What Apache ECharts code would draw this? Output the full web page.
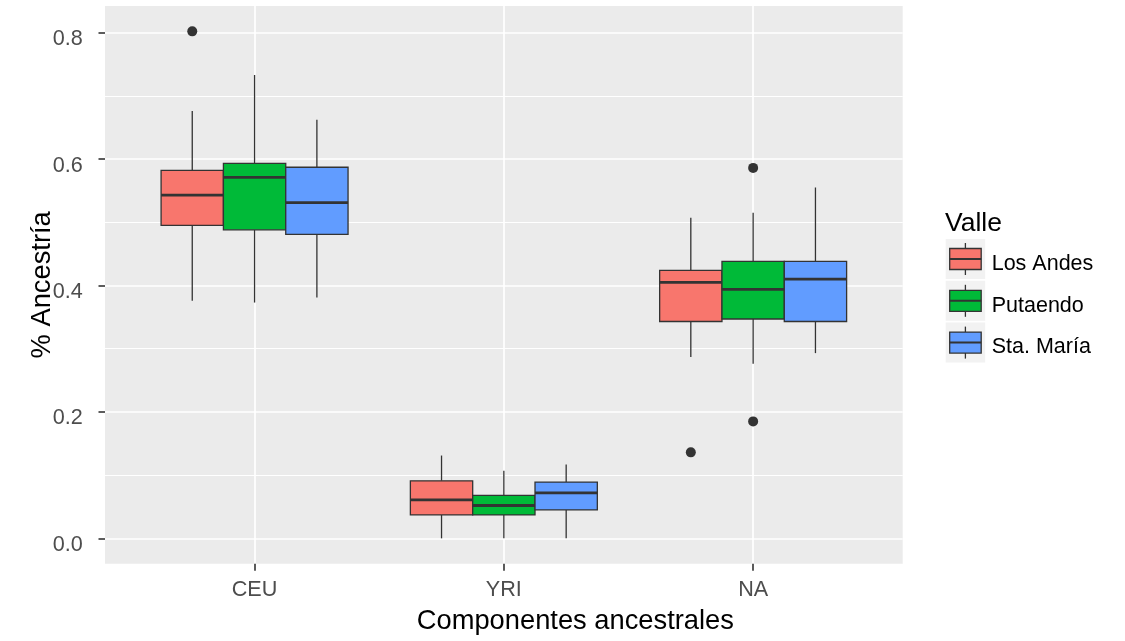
<!DOCTYPE html>
<html>
<head>
<meta charset="utf-8">
<script src="https://cdn.jsdelivr.net/npm/echarts@6/dist/echarts.min.js"></script>
<style>
  html, body { margin: 0; padding: 0; background: #ffffff; }
  #chart { width: 1125px; height: 641px; }
</style>
</head>
<body>
<div id="chart"></div>
<script>
// Ancestral components on the x axis, one box per valley inside each
const categories = ['CEU', 'YRI', 'NA'];
const valles = ['Los Andes', 'Putaendo', 'Sta. María'];
const valleColors = ['#F8766D', '#00BA38', '#619CFF'];

// Box statistics per component: [lower whisker, Q1, median, Q3, upper whisker]
const losAndes = [
  [0.376, 0.495, 0.543, 0.582, 0.676],
  [0.000, 0.037, 0.061, 0.091, 0.131],
  [0.287, 0.343, 0.405, 0.424, 0.507]
];
const putaendo = [
  [0.373, 0.488, 0.571, 0.593, 0.733],
  [0.000, 0.037, 0.052, 0.068, 0.107],
  [0.276, 0.347, 0.394, 0.438, 0.515]
];
const staMaria = [
  [0.381, 0.481, 0.531, 0.587, 0.662],
  [0.000, 0.045, 0.072, 0.089, 0.117],
  [0.293, 0.343, 0.410, 0.438, 0.555]
];

// Outliers: [component index, value]
const outliersLosAndes = [[0, 0.802], [2, 0.136]];
const outliersPutaendo = [[2, 0.586], [2, 0.185]];
const outliersStaMaria = [];

const xTicks = [0, 1, 2];
const yTicks = [0, 0.2, 0.4, 0.6, 0.8];
const yMinorTicks = [0.1, 0.3, 0.5, 0.7];

const boxStats = [losAndes, putaendo, staMaria];
const outliers = [outliersLosAndes, outliersPutaendo, outliersStaMaria];

const FONT = "'Liberation Sans', Arial, Helvetica, sans-serif";
const INK = '#333333';
const DODGE = 0.25;          // width of one box in category units
const GROUP_OFFSETS = [-DODGE, 0, DODGE];
const X_MIN = -0.6, X_MAX = 2.6;
const Y_MIN = -0.0401, Y_MAX = 0.8421;

function boxRenderer(offset) {
  return function (params, api) {
    const xc = api.value(0) + offset;
    const half = DODGE / 2;
    const top = api.coord([xc, api.value(5)]);
    const bottom = api.coord([xc, api.value(1)]);
    const q3Left = api.coord([xc - half, api.value(4)]);
    const q1Right = api.coord([xc + half, api.value(2)]);
    const medLeft = api.coord([xc - half, api.value(3)]);
    const medRight = api.coord([xc + half, api.value(3)]);
    const fill = api.visual('color');
    return {
      type: 'group',
      children: [
        { type: 'line', shape: { x1: top[0], y1: top[1], x2: top[0], y2: q3Left[1] },
          style: { stroke: INK, lineWidth: 1.3 } },
        { type: 'line', shape: { x1: bottom[0], y1: q1Right[1], x2: bottom[0], y2: bottom[1] },
          style: { stroke: INK, lineWidth: 1.3 } },
        { type: 'rect', shape: { x: q3Left[0], y: q3Left[1], width: q1Right[0] - q3Left[0], height: q1Right[1] - q3Left[1] },
          style: { fill: fill, stroke: INK, lineWidth: 1.3 } },
        { type: 'line', shape: { x1: medLeft[0], y1: medLeft[1], x2: medRight[0], y2: medRight[1] },
          style: { stroke: INK, lineWidth: 2.8 } }
      ]
    };
  };
}

const series = [];
valles.forEach(function (name, i) {
  series.push({
    name: name,
    type: 'custom',
    renderItem: boxRenderer(GROUP_OFFSETS[i]),
    itemStyle: { color: valleColors[i] },
    encode: { x: 0, y: [1, 2, 3, 4, 5] },
    data: boxStats[i].map(function (s, c) { return [c].concat(s); }),
    z: 3
  });
  series.push({
    name: name,
    type: 'scatter',
    symbol: 'circle',
    symbolSize: 10,
    itemStyle: { color: INK, opacity: 1 },
    data: outliers[i].map(function (o) { return [o[0] + GROUP_OFFSETS[i], o[1]]; }),
    z: 4
  });
});

// Legend keys drawn as small boxplot glyphs
const legendGraphics = [{
  type: 'text', x: 945, y: 223.5,
  style: { text: 'Valle', font: '26.5px ' + FONT, fill: '#000000', verticalAlign: 'middle', align: 'left' }
}];
valles.forEach(function (name, i) {
  legendGraphics.push({
    type: 'group', x: 945.7, y: 239 + i * 41.8,
    children: [
      { type: 'rect', shape: { x: 0, y: 0, width: 39.5, height: 40 }, style: { fill: '#F2F2F2' } },
      { type: 'line', shape: { x1: 19.7, y1: 4, x2: 19.7, y2: 36 }, style: { stroke: INK, lineWidth: 1.3 } },
      { type: 'rect', shape: { x: 4, y: 9.5, width: 31.5, height: 21 },
        style: { fill: valleColors[i], stroke: INK, lineWidth: 1.3 } },
      { type: 'line', shape: { x1: 4, y1: 20, x2: 35.5, y2: 20 }, style: { stroke: INK, lineWidth: 2 } },
      { type: 'text', x: 46, y: 24.8,
        style: { text: name, font: '21.5px ' + FONT, fill: '#000000', verticalAlign: 'middle', align: 'left' } }
    ]
  });
});

const chart = echarts.init(document.getElementById('chart'), null, { renderer: 'canvas' });
chart.setOption({
  animation: false,
  backgroundColor: '#ffffff',
  textStyle: { fontFamily: FONT },
  grid: {
    left: 105, top: 6, right: 222.3, bottom: 77.3,
    show: true, backgroundColor: '#EBEBEB', borderWidth: 0
  },
  xAxis: {
    type: 'value',
    min: X_MIN, max: X_MAX,
    name: 'Componentes ancestrales',
    nameLocation: 'middle',
    nameGap: 44,
    nameMoveOverlap: false,
    nameTextStyle: { fontSize: 27.3, color: '#000000', fontFamily: FONT, padding: [0, 0, 0, 143] },
    axisLine: { show: true, onZero: false, lineStyle: { color: '#FFFFFF', width: 0, opacity: 0 } },
    axisTick: { show: true, customValues: xTicks, length: 7, lineStyle: { color: INK, width: 1.6 } },
    axisLabel: {
      customValues: xTicks,
      formatter: function (v) { return categories[Math.round(v)]; },
      color: '#4D4D4D', fontSize: 21.6, fontFamily: FONT, margin: 15.5
    },
    splitLine: { show: true, lineStyle: { color: '#FFFFFF', width: 1.7 } }
  },
  yAxis: [{
    type: 'value',
    min: Y_MIN, max: Y_MAX,
    name: '% Ancestría',
    nameLocation: 'middle',
    nameRotate: 90,
    nameGap: 49,
    nameMoveOverlap: false,
    nameTextStyle: { fontSize: 27.3, color: '#000000', fontFamily: FONT },
    axisLine: { show: true, onZero: false, lineStyle: { color: '#FFFFFF', width: 0, opacity: 0 } },
    axisTick: { show: true, customValues: yTicks, length: 6.5, lineStyle: { color: INK, width: 1.6 } },
    axisLabel: {
      customValues: yTicks,
      formatter: function (v) { return v.toFixed(1); },
      color: '#4D4D4D', fontSize: 21.6, fontFamily: FONT, margin: 22.3,
      verticalAlign: 'top', lineHeight: 13
    },
    splitLine: { show: true, lineStyle: { color: '#FFFFFF', width: 1.7 } }
  }, {
    type: 'value',
    position: 'right',
    min: Y_MIN, max: Y_MAX,
    axisLine: { show: false, onZero: false },
    axisTick: { show: false, customValues: yMinorTicks },
    axisLabel: { show: false, customValues: yMinorTicks },
    splitLine: { show: true, lineStyle: { color: '#FFFFFF', width: 1.0 } }
  }],
  series: series,
  graphic: legendGraphics
});
</script>
</body>
</html>
